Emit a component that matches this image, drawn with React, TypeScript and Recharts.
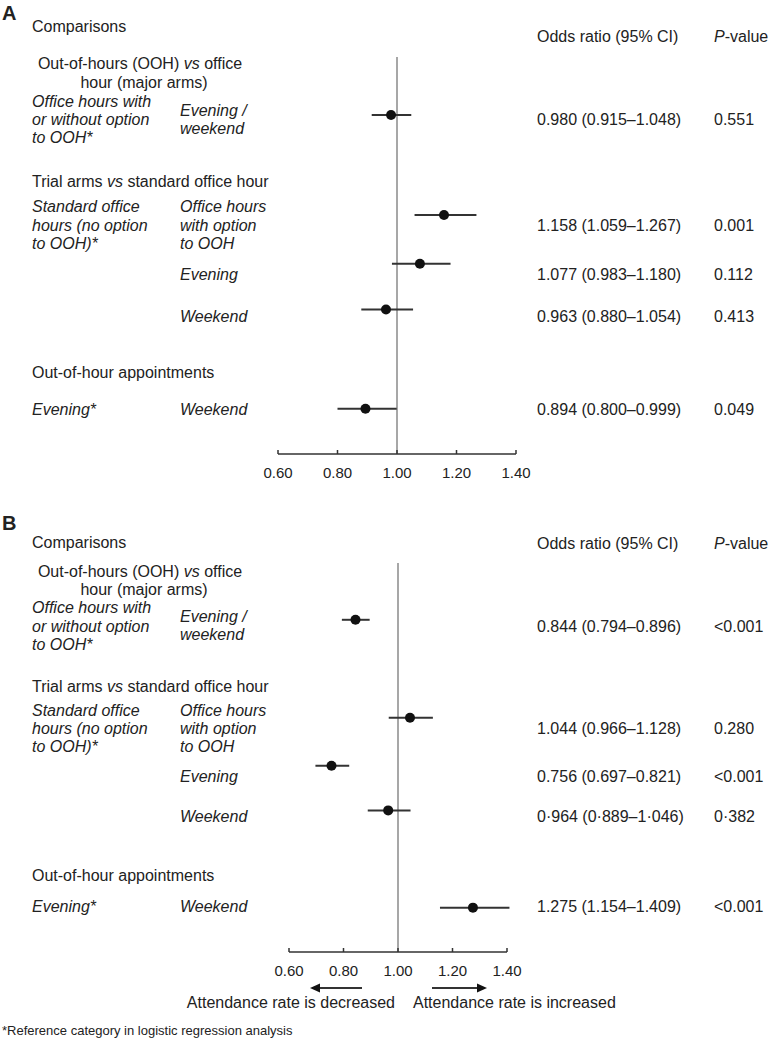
import React from 'react'
import { ScatterChart, Scatter, XAxis, YAxis, ReferenceLine, ErrorBar } from 'recharts'

// x axis ticks (odds ratio)
const xTicks = [0.6, 0.8, 1.0, 1.2, 1.4]
// vertical slot of each comparison row on the hidden y scale (0 = top, 100 = axis)
const rowSlots = [14.6, 39.8, 52.1, 63.6, 88.6]

// Panel A
const orA = [0.98, 1.158, 1.077, 0.963, 0.894]
const loA = [0.915, 1.059, 0.983, 0.88, 0.8]
const hiA = [1.048, 1.267, 1.18, 1.054, 0.999]
const pA = ['0.551', '0.001', '0.112', '0.413', '0.049']
const markA = ['.', '.', '.', '.', '.']

// Panel B
const orB = [0.844, 1.044, 0.756, 0.964, 1.275]
const loB = [0.794, 0.966, 0.697, 0.889, 1.154]
const hiB = [0.896, 1.128, 0.821, 1.046, 1.409]
const pB = ['<0.001', '0.280', '<0.001', '0·382', '<0.001']
const markB = ['.', '.', '.', '·', '.']

const TEXT = '#222'
const FONT = '"Liberation Sans", Arial, Helvetica, sans-serif'

const toRows = (or: number[], lo: number[], hi: number[]) =>
  or.map((v, i) => ({ or: v, row: rowSlots[i], err: [v - lo[i], hi[i] - v] }))

const fmt = (v: number, mark: string) => v.toFixed(3).replace('.', mark)
const ciText = (or: number[], lo: number[], hi: number[], marks: string[]) =>
  or.map((v, i) => `${fmt(v, marks[i])} (${fmt(lo[i], marks[i])}–${fmt(hi[i], marks[i])})`)

type TxtProps = {
  x: number
  y: number
  children: React.ReactNode
  italic?: boolean
  bold?: boolean
  size?: number
  align?: 'left' | 'right' | 'center'
  width?: number
}

function Txt({ x, y, children, italic, bold, size = 16, align = 'left', width = 200 }: TxtProps) {
  const style: React.CSSProperties = {
    position: 'absolute',
    top: y - 10,
    lineHeight: '20px',
    fontSize: size,
    whiteSpace: 'nowrap',
    fontStyle: italic ? 'italic' : 'normal',
    fontWeight: bold ? 700 : 400,
  }
  if (align === 'left') style.left = x
  else if (align === 'right') style.right = 768 - x
  else {
    style.left = x - width / 2
    style.width = width
    style.textAlign = 'center'
  }
  return <div style={style}>{children}</div>
}

const AxisTick = (props: any) => {
  const { x, y, payload } = props
  return (
    <g>
      <line x1={x} x2={x} y1={y} y2={y - 4} stroke="#333" strokeWidth={1.5} />
      <text x={x} y={y + 24} textAnchor="middle" fontSize={15} fill={TEXT} fontFamily={FONT}>
        {Number(payload.value).toFixed(2)}
      </text>
    </g>
  )
}

const Dot = (props: any) => <circle cx={props.cx} cy={props.cy} r={5} fill="#111" />

type ForestProps = {
  top: number
  data: { or: number; row: number; err: number[] }[]
  margin: { top: number; right: number; bottom: number; left: number }
}

function Forest({ top, data, margin }: ForestProps) {
  return (
    <div style={{ position: 'absolute', left: 0, top }}>
      <ScatterChart width={768} height={500} margin={margin}>
        <XAxis
          type="number"
          dataKey="or"
          domain={[0.6, 1.4]}
          ticks={xTicks}
          allowDataOverflow
          height={30}
          axisLine={{ stroke: '#333', strokeWidth: 1.5 }}
          tickLine={false}
          tickSize={0}
          tickMargin={0}
          tick={<AxisTick />}
        />
        <YAxis type="number" dataKey="row" domain={[0, 100]} reversed hide />
        <ReferenceLine x={1} stroke="#8a8a8a" strokeWidth={1.5} />
        <Scatter data={data} shape={<Dot />} isAnimationActive={false}>
          <ErrorBar dataKey="err" direction="x" width={0} stroke="#333" strokeWidth={2} />
        </Scatter>
      </ScatterChart>
    </div>
  )
}

// y = [comparisons, ooh1, ooh2, off1, off2, off3, eve1, eve2, trial, std1, std2, std3, evening, weekend, outOfHour, lastRow]
function LeftColumn({ y }: { y: number[] }) {
  return (
    <>
      <Txt x={32} y={y[0]}>Comparisons</Txt>
      <Txt x={140} y={y[1]} align="center" width={260}>
        Out-of-hours (OOH) <i>vs</i> office
      </Txt>
      <Txt x={144} y={y[2]} align="center" width={260}>hour (major arms)</Txt>
      <Txt x={32} y={y[3]} italic>Office hours with</Txt>
      <Txt x={32} y={y[4]} italic>or without option</Txt>
      <Txt x={32} y={y[5]} italic>to OOH*</Txt>
      <Txt x={180} y={y[6]} italic>Evening /</Txt>
      <Txt x={180} y={y[7]} italic>weekend</Txt>
      <Txt x={32} y={y[8]}>
        Trial arms <i>vs</i> standard office hour
      </Txt>
      <Txt x={32} y={y[9]} italic>Standard office</Txt>
      <Txt x={32} y={y[10]} italic>hours (no option</Txt>
      <Txt x={32} y={y[11]} italic>to OOH)*</Txt>
      <Txt x={180} y={y[9]} italic>Office hours</Txt>
      <Txt x={180} y={y[10]} italic>with option</Txt>
      <Txt x={180} y={y[11]} italic>to OOH</Txt>
      <Txt x={180} y={y[12]} italic>Evening</Txt>
      <Txt x={180} y={y[13]} italic>Weekend</Txt>
      <Txt x={32} y={y[14]}>Out-of-hour appointments</Txt>
      <Txt x={32} y={y[15]} italic>Evening*</Txt>
      <Txt x={180} y={y[15]} italic>Weekend</Txt>
    </>
  )
}

function RightColumn({ head, rows, ci, p }: { head: number; rows: number[]; ci: string[]; p: string[] }) {
  return (
    <>
      <Txt x={537} y={head}>Odds ratio (95% CI)</Txt>
      <Txt x={714} y={head}>
        <i>P</i>-value
      </Txt>
      {rows.map((ry, i) => (
        <React.Fragment key={i}>
          <Txt x={537} y={ry}>{ci[i]}</Txt>
          <Txt x={714} y={ry}>{p[i]}</Txt>
        </React.Fragment>
      ))}
    </>
  )
}

export default function App() {
  const ciA = ciText(orA, loA, hiA, markA)
  const ciB = ciText(orB, loB, hiB, markB)

  return (
    <div
      style={{
        position: 'absolute',
        left: 0,
        top: 0,
        width: 768,
        height: 1041,
        background: '#fff',
        color: TEXT,
        fontFamily: FONT,
        overflow: 'hidden',
      }}
    >
      <Forest top={0} data={toRows(orA, loA, hiA)} margin={{ top: 57, right: 252, bottom: 16, left: 278 }} />
      <Forest top={500} data={toRows(orB, loB, hiB)} margin={{ top: 63, right: 261, bottom: 18, left: 289 }} />

      <Txt x={2} y={13} bold size={20}>A</Txt>
      <LeftColumn y={[27, 64, 83, 102, 120, 138, 111, 129, 182, 207, 226, 244, 275, 317, 373, 410]} />
      <RightColumn head={37} rows={[120, 226, 275, 317, 410]} ci={ciA} p={pA} />

      <Txt x={2} y={523} bold size={20}>B</Txt>
      <LeftColumn y={[543, 572, 590, 608, 627, 645, 617, 635, 687, 711, 729, 747, 777, 817, 876, 907]} />
      <RightColumn head={544} rows={[627, 729, 777, 817, 907]} ci={ciB} p={pB} />

      <svg width={768} height={1041} style={{ position: 'absolute', left: 0, top: 0, pointerEvents: 'none' }}>
        <line x1={318} x2={362} y1={988} y2={988} stroke="#333" strokeWidth={2} />
        <polygon points="310,988 320,983.5 320,992.5" fill="#111" />
        <line x1={432} x2={477} y1={988} y2={988} stroke="#333" strokeWidth={2} />
        <polygon points="487,988 477,983.5 477,992.5" fill="#111" />
      </svg>
      <Txt x={395} y={1003} align="right">Attendance rate is decreased</Txt>
      <Txt x={413} y={1003}>Attendance rate is increased</Txt>
      <Txt x={2} y={1031} size={13}>*Reference category in logistic regression analysis</Txt>
    </div>
  )
}
